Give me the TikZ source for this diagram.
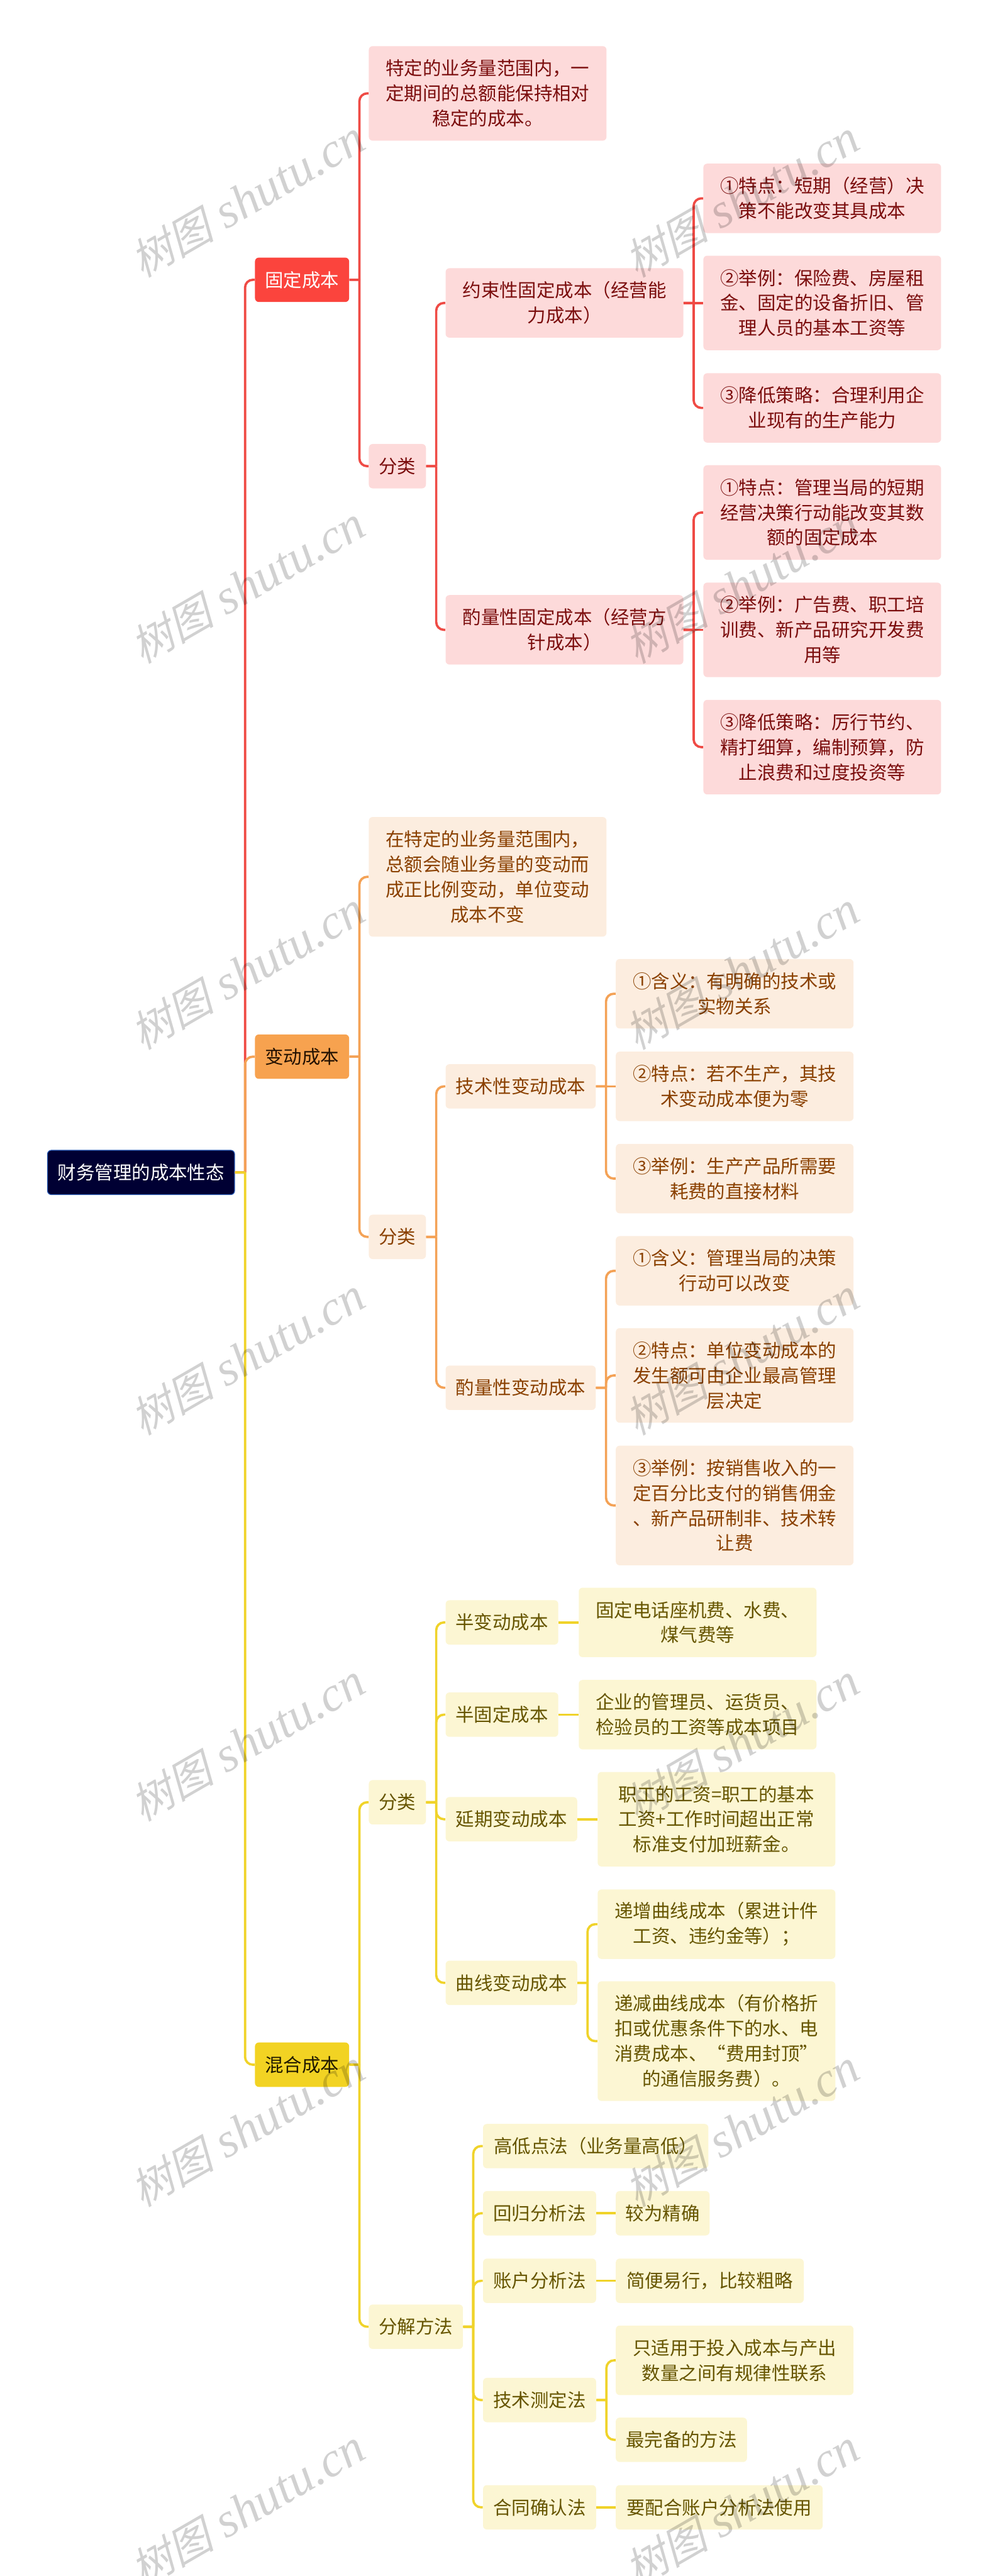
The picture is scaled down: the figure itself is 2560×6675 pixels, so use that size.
\documentclass[tikz,border=0pt]{standalone}
\usepackage{fontspec}
\setmainfont{Noto Sans CJK SC}
\newfontfamily\wmcjk[FakeSlant=0.25]{Noto Sans CJK SC}
\newfontfamily\wmlat{Liberation Serif}
\definecolor{rootfill}{HTML}{000033}
\definecolor{rootedge}{HTML}{2A5CB8}
\definecolor{redhead}{HTML}{FB443D}
\definecolor{redline}{HTML}{EF4B45}
\definecolor{redfill}{HTML}{FDDADA}
\definecolor{redtext}{HTML}{7B0D0D}
\definecolor{orghead}{HTML}{F7A24F}
\definecolor{orgline}{HTML}{F4A256}
\definecolor{orgfill}{HTML}{FCEDDF}
\definecolor{orgtext}{HTML}{8A4000}
\definecolor{yelhead}{HTML}{F2D323}
\definecolor{yelline}{HTML}{F0D32A}
\definecolor{yelfill}{HTML}{FCF6D3}
\definecolor{yeltext}{HTML}{665500}
\tikzset{
  wd/.style={minimum width=#1*0.3pt},
  ln/.style={minimum height=(#1*65+50)*0.3pt},
  card/.style={anchor=west, inner sep=0pt, align=center, rounded corners=3pt,
    font=\fontsize{14.4}{19.5}\selectfont},
  rootcard/.style={card, fill=rootfill, draw=rootedge, line width=0.6pt, text=white},
  redtop/.style={card, fill=redhead, text=white},
  redcard/.style={card, fill=redfill, text=redtext},
  orgtop/.style={card, fill=orghead, text=black!75!orgtext},
  orgcard/.style={card, fill=orgfill, text=orgtext},
  yeltop/.style={card, fill=yelhead, text=black!70!yeltext},
  yelcard/.style={card, fill=yelfill, text=yeltext},
  redlink/.style={draw=redline, line width=1.8pt},
  orglink/.style={draw=orgline, line width=1.8pt},
  yellink/.style={draw=yelline, line width=1.8pt},
  bus/.style={to path={(\tikztostart) ++(26,0) [rounded corners=6pt] |- (\tikztotarget)
    (\tikztostart) -- ++(26,0)}},
  mark text/.style={rotate=30, text=black, opacity=0.18, inner sep=0pt,
    font=\fontsize{38}{38}\selectfont\wmlat\itshape},
}
\newcommand{\wmtext}{{\fontsize{33}{38}\selectfont\wmcjk 树图} shutu.cn}
\begin{document}
\begin{tikzpicture}[x=0.3pt, y=-0.3pt]
\useasboundingbox (0,0) rectangle (2560,6675);

\node[rootcard, wd=485, ln=1] (root) at (122,3038) {财务管理的成本性态};

% fixed cost
\node[redtop, wd=244, ln=1] (fixtop) at (660,725) {固定成本};
\node[redcard, wd=616, ln=3] (fixdesc) at (955,242) {特定的业务量范围内，一\\定期间的总额能保持相对\\稳定的成本。};
\node[redcard, wd=148, ln=1] (fixkind) at (955,1208) {分类};
\node[redcard, wd=616, ln=2] (bind) at (1154,785) {约束性固定成本（经营能\\力成本）};
\node[redcard, wd=616, ln=2] (bindA) at (1822,514) {①特点：短期（经营）决\\策不能改变其具成本};
\node[redcard, wd=616, ln=3] (bindB) at (1822,785) {②举例：保险费、房屋租\\金、固定的设备折旧、管\\理人员的基本工资等};
\node[redcard, wd=616, ln=2] (bindC) at (1822,1057) {③降低策略：合理利用企\\业现有的生产能力};
\node[redcard, wd=616, ln=2] (disc) at (1154,1632) {酌量性固定成本（经营方\\针成本）};
\node[redcard, wd=616, ln=3] (discA) at (1822,1328) {①特点：管理当局的短期\\经营决策行动能改变其数\\额的固定成本};
\node[redcard, wd=616, ln=3] (discB) at (1822,1632) {②举例：广告费、职工培\\训费、新产品研究开发费\\用等};
\node[redcard, wd=616, ln=3] (discC) at (1822,1936) {③降低策略：厉行节约、\\精打细算，编制预算，防\\止浪费和过度投资等};

% variable cost
\node[orgtop, wd=244, ln=1] (vartop) at (660,2738) {变动成本};
\node[orgcard, wd=616, ln=4] (vardesc) at (955,2272) {在特定的业务量范围内，\\总额会随业务量的变动而\\成正比例变动，单位变动\\成本不变};
\node[orgcard, wd=148, ln=1] (varkind) at (955,3205) {分类};
\node[orgcard, wd=389, ln=1] (tech) at (1154,2815) {技术性变动成本};
\node[orgcard, wd=616, ln=2] (techA) at (1595,2575) {①含义：有明确的技术或\\实物关系};
\node[orgcard, wd=616, ln=2] (techB) at (1595,2815) {②特点：若不生产，其技\\术变动成本便为零};
\node[orgcard, wd=616, ln=2] (techC) at (1595,3054) {③举例：生产产品所需要\\耗费的直接材料};
\node[orgcard, wd=389, ln=1] (oper) at (1154,3596) {酌量性变动成本};
\node[orgcard, wd=616, ln=2] (operA) at (1595,3293) {①含义：管理当局的决策\\行动可以改变};
\node[orgcard, wd=616, ln=3] (operB) at (1595,3564) {②特点：单位变动成本的\\发生额可由企业最高管理\\层决定};
\node[orgcard, wd=616, ln=4] (operC) at (1595,3901) {③举例：按销售收入的一\\定百分比支付的销售佣金\\、新产品研制非、技术转\\让费};

% mixed cost
\node[yeltop, wd=244, ln=1] (mixtop) at (660,5350) {混合成本};
\node[yelcard, wd=148, ln=1] (mixkind) at (955,4670) {分类};
\node[yelcard, wd=292, ln=1] (semiv) at (1154,4204) {半变动成本};
\node[yelcard, wd=616, ln=2] (semivA) at (1499,4204) {固定电话座机费、水费、\\煤气费等};
\node[yelcard, wd=292, ln=1] (semif) at (1154,4443) {半固定成本};
\node[yelcard, wd=616, ln=2] (semifA) at (1499,4443) {企业的管理员、运货员、\\检验员的工资等成本项目};
\node[yelcard, wd=341, ln=1] (delay) at (1154,4714) {延期变动成本};
\node[yelcard, wd=616, ln=3] (delayA) at (1548,4714) {职工的工资=职工的基本\\工资+工作时间超出正常\\标准支付加班薪金。};
\node[yelcard, wd=341, ln=1] (curve) at (1154,5138) {曲线变动成本};
\node[yelcard, wd=616, ln=2] (curveA) at (1548,4986) {递增曲线成本（累进计件\\工资、违约金等）；};
\node[yelcard, wd=616, ln=4] (curveB) at (1548,5289) {递减曲线成本（有价格折\\扣或优惠条件下的水、电\\消费成本、“费用封顶”\\的通信服务费）。};
\node[yelcard, wd=244, ln=1] (split) at (955,6029) {分解方法};
\node[yelcard, wd=584, ln=1] (high) at (1251,5561) {高低点法（业务量高低）};
\node[yelcard, wd=293, ln=1] (regr) at (1251,5735) {回归分析法};
\node[yelcard, wd=243, ln=1] (regrA) at (1595,5735) {较为精确};
\node[yelcard, wd=293, ln=1] (acct) at (1251,5910) {账户分析法};
\node[yelcard, wd=487, ln=1] (acctA) at (1595,5910) {简便易行，比较粗略};
\node[yelcard, wd=293, ln=1] (meas) at (1251,6219) {技术测定法};
\node[yelcard, wd=616, ln=2] (measA) at (1595,6116) {只适用于投入成本与产出\\数量之间有规律性联系};
\node[yelcard, wd=340, ln=1] (measB) at (1595,6322) {最完备的方法};
\node[yelcard, wd=293, ln=1] (cont) at (1251,6497) {合同确认法};
\node[yelcard, wd=536, ln=1] (contA) at (1595,6497) {要配合账户分析法使用};

\draw[redlink] (root.east) to[bus] (fixtop.west);
\draw[redlink] (fixtop.east) to[bus] (fixdesc.west);
\draw[redlink] (fixtop.east) to[bus] (fixkind.west);
\draw[redlink] (fixkind.east) to[bus] (bind.west);
\draw[redlink] (fixkind.east) to[bus] (disc.west);
\draw[redlink] (bind.east) to[bus] (bindA.west);
\draw[redlink] (bind.east) to[bus] (bindC.west);
\draw[redlink] (bind.east) -- (bindB.west);
\draw[redlink] (disc.east) to[bus] (discA.west);
\draw[redlink] (disc.east) to[bus] (discC.west);
\draw[redlink] (disc.east) -- (discB.west);

\draw[orglink] (root.east) to[bus] (vartop.west);
\draw[orglink] (vartop.east) to[bus] (vardesc.west);
\draw[orglink] (vartop.east) to[bus] (varkind.west);
\draw[orglink] (varkind.east) to[bus] (tech.west);
\draw[orglink] (varkind.east) to[bus] (oper.west);
\draw[orglink] (tech.east) to[bus] (techA.west);
\draw[orglink] (tech.east) to[bus] (techC.west);
\draw[orglink] (tech.east) -- (techB.west);
\draw[orglink] (oper.east) to[bus] (operA.west);
\draw[orglink] (oper.east) to[bus] (operB.west);
\draw[orglink] (oper.east) to[bus] (operC.west);

\draw[yellink] (root.east) to[bus] (mixtop.west);
\draw[yellink] (mixtop.east) to[bus] (mixkind.west);
\draw[yellink] (mixtop.east) to[bus] (split.west);
\draw[yellink] (mixkind.east) to[bus] (semiv.west);
\draw[yellink] (mixkind.east) to[bus] (semif.west);
\draw[yellink] (mixkind.east) to[bus] (delay.west);
\draw[yellink] (mixkind.east) to[bus] (curve.west);
\draw[yellink] (semiv.east) -- (semivA.west);
\draw[yellink] (semif.east) -- (semifA.west);
\draw[yellink] (delay.east) -- (delayA.west);
\draw[yellink] (curve.east) to[bus] (curveA.west);
\draw[yellink] (curve.east) to[bus] (curveB.west);
\draw[yellink] (split.east) to[bus] (high.west);
\draw[yellink] (split.east) to[bus] (regr.west);
\draw[yellink] (split.east) to[bus] (acct.west);
\draw[yellink] (split.east) to[bus] (meas.west);
\draw[yellink] (split.east) to[bus] (cont.west);
\draw[yellink] (regr.east) -- (regrA.west);
\draw[yellink] (acct.east) -- (acctA.west);
\draw[yellink] (meas.east) to[bus] (measA.west);
\draw[yellink] (meas.east) to[bus] (measB.west);
\draw[yellink] (cont.east) -- (contA.west);

% watermark
\node[mark text] (markA) at (641,516) {\wmtext};
\node[mark text] (markB) at (1922,516) {\wmtext};
\node[mark text] (markC) at (641,1516) {\wmtext};
\node[mark text] (markD) at (1922,1516) {\wmtext};
\node[mark text] (markE) at (641,2516) {\wmtext};
\node[mark text] (markF) at (1922,2516) {\wmtext};
\node[mark text] (markG) at (641,3516) {\wmtext};
\node[mark text] (markH) at (1922,3516) {\wmtext};
\node[mark text] (markI) at (641,4516) {\wmtext};
\node[mark text] (markJ) at (1922,4516) {\wmtext};
\node[mark text] (markK) at (641,5516) {\wmtext};
\node[mark text] (markL) at (1922,5516) {\wmtext};
\node[mark text] (markM) at (641,6500) {\wmtext};
\node[mark text] (markN) at (1922,6500) {\wmtext};
\end{tikzpicture}
\end{document}
